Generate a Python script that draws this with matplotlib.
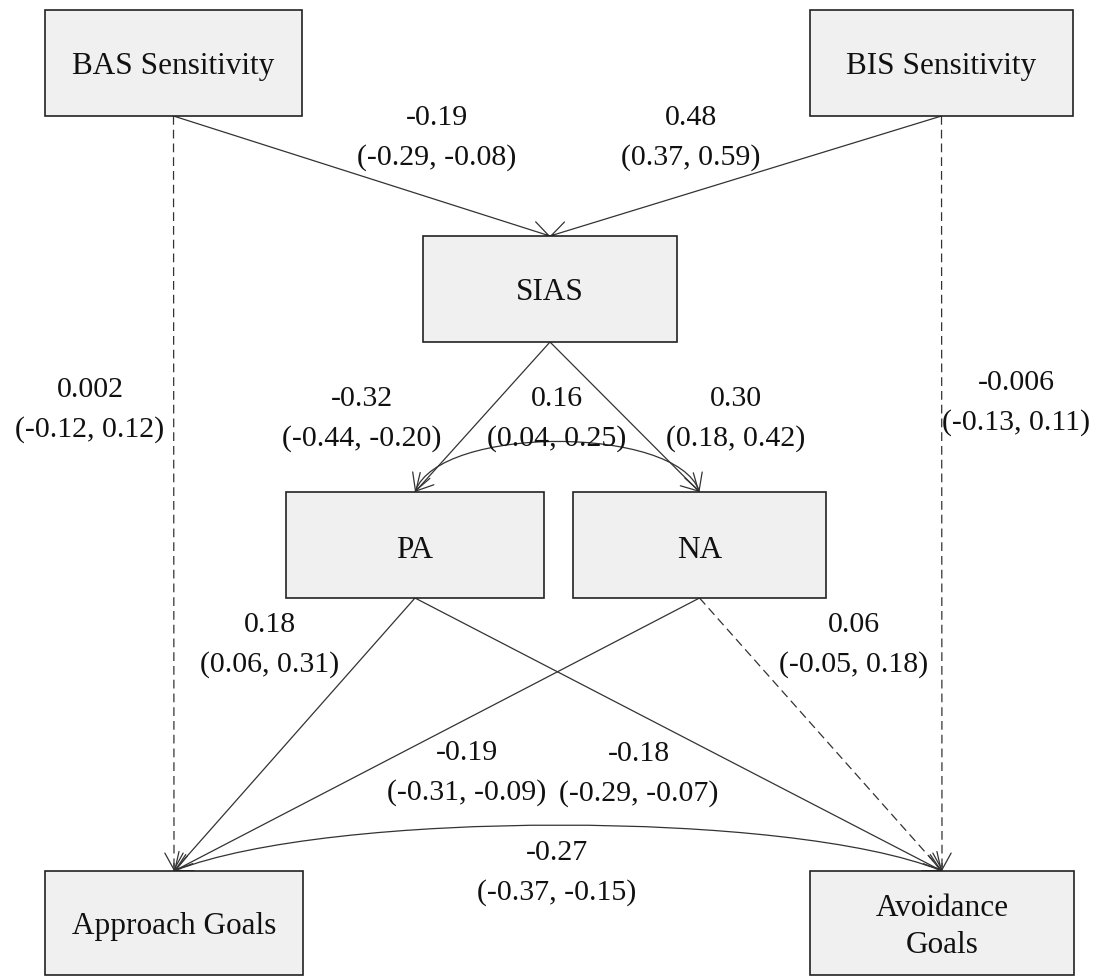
import matplotlib.pyplot as plt
from matplotlib.patches import Rectangle, FancyArrowPatch, ArrowStyle
from matplotlib.path import Path

plt.rcParams['font.family'] = ['Liberation Serif', 'DejaVu Serif']

# nodes of the path model
nodes = ["BAS", "BIS", "SIAS", "PA", "NA", "APP", "AVO"]
node_labels = ["BAS Sensitivity", "BIS Sensitivity", "SIAS", "PA", "NA",
               "Approach Goals", "Avoidance\nGoals"]

# directed paths: from, to, estimate, 95% CI, significant?
path_from = ["BAS", "BIS", "BAS", "BIS", "SIAS", "SIAS", "PA", "PA", "NA", "NA"]
path_to = ["SIAS", "SIAS", "APP", "AVO", "PA", "NA", "APP", "AVO", "APP", "AVO"]
path_est = ["-0.19", "0.48", "0.002", "-0.006", "-0.32", "0.30", "0.18", "-0.18", "-0.19", "0.06"]
path_ci = ["(-0.29, -0.08)", "(0.37, 0.59)", "(-0.12, 0.12)", "(-0.13, 0.11)",
           "(-0.44, -0.20)", "(0.18, 0.42)", "(0.06, 0.31)", "(-0.29, -0.07)",
           "(-0.31, -0.09)", "(-0.05, 0.18)"]
path_sig = [True, True, False, False, True, True, True, True, True, False]

# covariances (double headed, curved)
cov_a = ["PA", "APP"]
cov_b = ["NA", "AVO"]
cov_est = ["0.16", "-0.27"]
cov_ci = ["(0.04, 0.25)", "(-0.37, -0.15)"]

# layout (pixels): left, top, right, bottom
box = {
    "BAS": (45, 10, 302, 116),
    "BIS": (810, 10, 1073, 116),
    "SIAS": (423, 236, 677, 342),
    "PA": (286, 492, 544, 598),
    "NA": (573, 492, 826, 598),
    "APP": (45, 871, 303, 975),
    "AVO": (810, 871, 1074, 975),
}
# centre of first label line
path_lab_xy = [(437, 115), (691, 115), (90, 387), (1016, 380), (362, 396),
               (736, 396), (270, 622), (639, 751), (467, 750), (854, 622)]
cov_lab_xy = [(557, 396), (557, 850)]
cov_ctrl = [((440, 425), (676, 425)), ((330, 810), (790, 810))]
line_gap = 40
ink = '#111111'
edge = '#333333'

fig = plt.figure(figsize=(11.12, 9.76), dpi=100)
ax = fig.add_axes([0, 0, 1, 1])
ax.set_xlim(0, 1112)
ax.set_ylim(976, 0)
ax.axis('off')

def top(n):
    l, t, r, b = box[n]
    return ((l + r) / 2, t)

def bottom(n):
    l, t, r, b = box[n]
    return ((l + r) / 2, b)

def label(x, y, a, b):
    ax.text(x, y + 10, a, ha='center', va='baseline', fontsize=21.5, color=ink, zorder=3)
    ax.text(x, y + 10 + line_gap, b, ha='center', va='baseline', fontsize=21.5, color=ink, zorder=3)

for n, lab in zip(nodes, node_labels):
    l, t, r, b = box[n]
    ax.add_patch(Rectangle((l, t), r - l, b - t, facecolor='#f0f0f0',
                           edgecolor='#222222', lw=1.2, zorder=2))
    cy = (t + b) / 2
    if "\n" in lab:
        l1, l2 = lab.split("\n")
        ax.text((l + r) / 2, cy - 7, l1, ha='center', va='baseline', fontsize=22.5, color=ink, zorder=3)
        ax.text((l + r) / 2, cy + 30, l2, ha='center', va='baseline', fontsize=22.5, color=ink, zorder=3)
    else:
        off = 13 if n in ("PA", "NA") else 11
        ax.text((l + r) / 2, cy + off, lab, ha='center', va='baseline', fontsize=22.5,
                color=ink, zorder=3)

head = ArrowStyle("->", head_length=0.6, head_width=0.33)
for f, t_, est, ci, sig, (lx, ly) in zip(path_from, path_to, path_est, path_ci,
                                          path_sig, path_lab_xy):
    (x0, y0), (x1, y1) = bottom(f), top(t_)
    ax.plot([x0, x1], [y0, y1], color=edge, lw=0.9,
            linestyle='-' if sig else (0, (7, 4)), zorder=1)
    # solid head on a short final piece
    fx, fy = x1 - (x1 - x0) * 0.01, y1 - (y1 - y0) * 0.01
    ax.add_patch(FancyArrowPatch((fx, fy), (x1, y1), arrowstyle=head, mutation_scale=20,
                                 shrinkA=0, shrinkB=0, lw=0.9, color=edge, zorder=1))
    label(lx, ly, est, ci)

head2 = ArrowStyle("<->", head_length=0.6, head_width=0.33)
for a, b, est, ci, (c1, c2), (lx, ly) in zip(cov_a, cov_b, cov_est, cov_ci, cov_ctrl, cov_lab_xy):
    p = Path([top(a), c1, c2, top(b)],
             [Path.MOVETO, Path.CURVE4, Path.CURVE4, Path.CURVE4])
    ax.add_patch(FancyArrowPatch(path=p, arrowstyle=head2, mutation_scale=20,
                                 lw=0.9, color=edge, zorder=1))
    label(lx, ly, est, ci)

fig.savefig("out.png", dpi=100)
